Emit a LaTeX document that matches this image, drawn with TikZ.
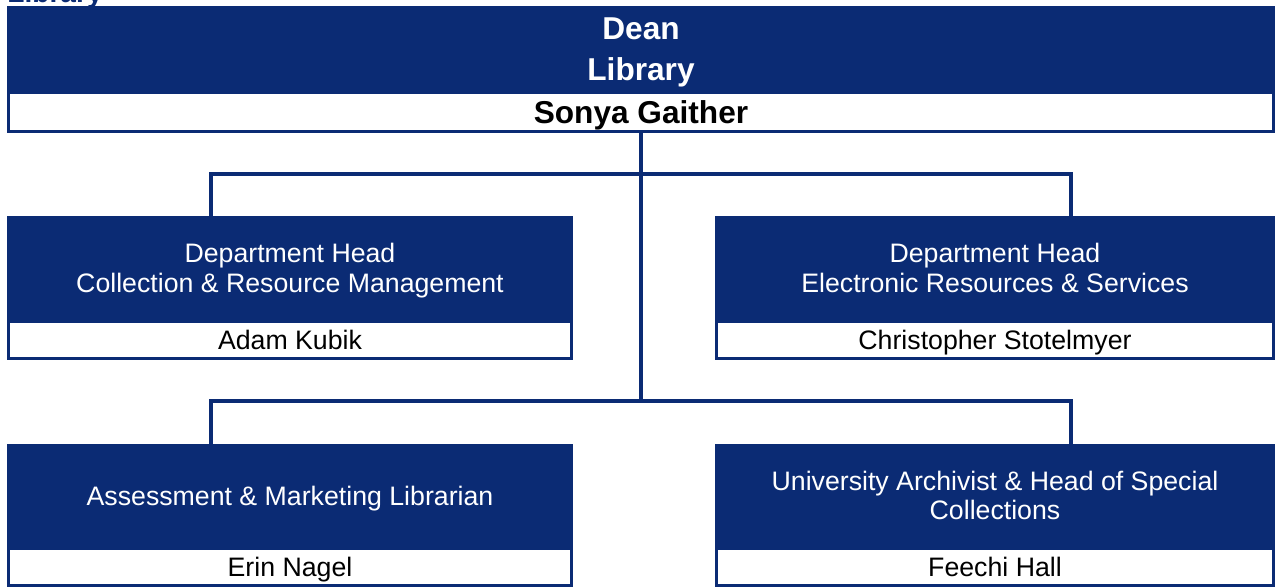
\documentclass[tikz,border=0pt]{standalone}
\usepackage{fontspec}
\setmainfont{Liberation Sans}
\usetikzlibrary{positioning}
\definecolor{navy}{RGB}{11,43,116}
\tikzset{
    titlebox/.style={fill=navy, text=white, inner sep=0pt, align=center, font=\fontsize{15.2}{17}\selectfont, text height=27.8pt, text depth=0pt},
    oneline/.style={text height=10.9pt, text depth=0pt},
    namebox/.style={draw=navy, line width=0.06cm, fill=white, inner sep=0pt, align=center, font=\fontsize{15.2}{17}\selectfont, oneline},
    link/.style={draw=navy, line width=0.08cm},
}

\begin{document}
\begin{tikzpicture}[x=0.02cm, y=-0.02cm]
        \clip (0,0) rectangle (1276,588);
        %heading cut off at the top
        \node[anchor=base west, text=navy, inner sep=0pt, font=\bfseries\fontsize{16}{18}\selectfont] (heading) at (7,3) {Library};
        %dean box
        \node[titlebox, minimum width=25.36cm, minimum height=1.70cm, font=\bfseries\fontsize{18}{23.2}\selectfont, text height=36.1pt] (dean) at (641,48.5) {Dean\\Library};
        \node[namebox, minimum width=25.30cm, minimum height=0.78cm, font=\bfseries\fontsize{18}{21}\selectfont, text height=12.9pt] (gaither) at (641,112) {Sonya Gaither};
        %department heads
        \node[titlebox, minimum width=11.32cm, minimum height=2.08cm] (collres) at (290,268) {Department Head\\Collection \& Resource Management};
        \node[namebox, minimum width=11.26cm, minimum height=0.74cm] (kubik) at (290,340) {Adam Kubik};
        \node[titlebox, minimum width=11.20cm, minimum height=2.08cm] (eres) at (995,268) {Department Head\\Electronic Resources \& Services};
        \node[namebox, minimum width=11.14cm, minimum height=0.74cm] (stotelmyer) at (995,340) {Christopher Stotelmyer};
        %librarians
        \node[titlebox, oneline, minimum width=11.32cm, minimum height=2.06cm] (assess) at (290,495.5) {Assessment \& Marketing Librarian};
        \node[namebox, minimum width=11.26cm, minimum height=0.74cm] (nagel) at (290,567) {Erin Nagel};
        \node[titlebox, minimum width=11.20cm, minimum height=2.06cm] (archive) at (995,495.5) {University Archivist \& Head of Special\\Collections};
        \node[namebox, minimum width=11.14cm, minimum height=0.74cm] (hall) at (995,567) {Feechi Hall};
        %connectors
        \coordinate (upleft) at (211,174);
        \coordinate (upright) at (1071,174);
        \coordinate (lowleft) at (211,401);
        \coordinate (lowright) at (1071,401);
        \draw[link] (gaither.south) -- (gaither.south |- lowleft);
        \draw[link] (upleft |- collres.north) -- (upleft) -- (upright) -- (upright |- eres.north);
        \draw[link] (lowleft |- assess.north) -- (lowleft) -- (lowright) -- (lowright |- archive.north);
\end{tikzpicture}
\end{document}
